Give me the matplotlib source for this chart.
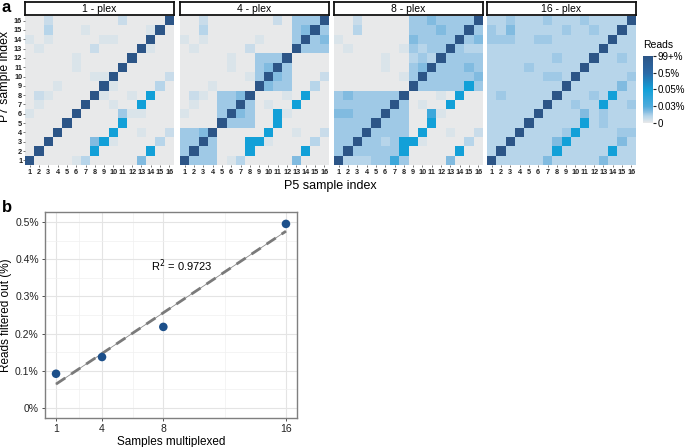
import numpy as np
import matplotlib
matplotlib.use("Agg")
import matplotlib.pyplot as plt
from matplotlib.colors import LinearSegmentedColormap, Normalize

plt.rcParams['font.family'] = ['Liberation Sans', 'DejaVu Sans']

# ---------------- data ----------------
panel_titles = ["1 - plex", "4 - plex", "8 - plex", "16 - plex"]
sample_index = list(range(1, 17))

# cell levels, rows listed from P7 index 16 (top) down to 1; columns P5 index 1..16
plex1 = ["0020000000200009", "0030001000000190", "1010000011000900", "0100000200009100",
         "0000010000090000", "0000010000900000", "0000000119000002", "0001000091000030",
         "0210000910010700", "0100009001007000", "1000090000411000", "0000900000700000",
         "0009000007001002", "0090000571000030", "0900000700000700", "9000013000005000"]
plex4 = ["0020000000204449", "0030000000004594", "1010000010004945", "0100000200009444",
         "0000010044490000", "0000010045940000", "0000000149540002", "0001000095440030",
         "0210445900010700", "0100449401007000", "1000495400710000", "0000944400700000",
         "4459000007001002", "4494000771000030", "4944000700000700", "9444013000005000"]
plex8 = ["0020000044544449", "0030000044454494", "1000000054444945", "0100000143449433",
         "0000010034394444", "0000010045944454", "0000000149444445", "0000000094444474",
         "4544444900010700", "4444449401007000", "5544494400610000", "4444944400700000",
         "4449444407001002", "4494434771000030", "4944444700000700", "9333446400005000"]
plex16 = ["3343334333433339", "4353333343343393", "4443344333333933", "3333333333339333",
          "3333333433393343", "3333433333933333", "3333334439333334", "3333333393333353",
          "3433333933343733", "3333339334337334", "3333393333534333", "3333933333734333",
          "3339333347333344", "3393333573333353", "3933333733333733", "9333335333335333"]
# level digit -> position on the colour scale (0 = "0", 1 = 0.03%, 2 = 0.05%, 3 = 0.5%, 4 = 99+%)
level_values = [0.0, 0.12, 0.25, 0.4, 0.55, 0.7, 1.3, 2.0, 3.0, 4.0]
cbar_ticks = [0, 1, 2, 3, 4]
cbar_labels = ["0", "0.03%", "0.05%", "0.5%", "99+%"]

samples_multiplexed = [1, 4, 8, 16]
reads_filtered = [0.092, 0.137, 0.218, 0.495]
r2_label = "R$^2$ = 0.9723"
b_xticks = [1, 4, 8, 16]
b_yticks = [0, 0.1, 0.2, 0.3, 0.4, 0.5]
b_yticklabels = ["0%", "0.1%", "0.2%", "0.3%", "0.4%", "0.5%"]

# ---------------- figure ----------------
W, H = 685, 447
fig = plt.figure(figsize=(W / 100, H / 100), dpi=100)

def rect(x0, y0, x1, y1):
    return [x0 / W, 1 - y1 / H, (x1 - x0) / W, (y1 - y0) / H]

cmap = LinearSegmentedColormap.from_list("reads", [
    (0.0, "#e8e9ea"), (0.1, "#b6d5ea"), (0.1375, "#9fc9e6"), (0.175, "#7fbae0"),
    (0.25, "#4eabdc"), (0.5, "#12a0d8"), (0.75, "#2b69a6"), (1.0, "#2c5587")])
norm = Normalize(0, 4)

panels = [plex1, plex4, plex8, plex16]
xs = [25, 180, 334, 487]
pw = 149
edges = np.arange(0.5, 17.5, 1)
mesh = None
for i, (rows, title) in enumerate(zip(panels, panel_titles)):
    mat = np.array([[level_values[int(c)] for c in r] for r in rows[::-1]])
    ax = fig.add_axes(rect(xs[i], 16, xs[i] + pw, 165))
    mesh = ax.pcolormesh(edges, edges, mat, cmap=cmap, norm=norm, edgecolors="none")
    ax.set_xlim(0.5, 16.5)
    ax.set_ylim(0.5, 16.5)
    for s in ax.spines.values():
        s.set_visible(False)
    ax.set_xticks(sample_index)
    ax.set_xticklabels([str(v) for v in sample_index], fontsize=5.2, color="#222222",
                       fontweight="bold")
    ax.tick_params(axis="x", length=1.2, pad=1.5, width=0.5, color="#444444")
    if i == 0:
        ax.set_yticks(sample_index)
        ax.set_yticklabels([str(v) for v in sample_index], fontsize=5.3, color="#222222",
                           fontweight="bold")
        ax.tick_params(axis="y", length=1.2, pad=0.8, width=0.5, color="#444444")
    else:
        ax.set_yticks([])
    # strip
    sax = fig.add_axes(rect(xs[i], 2, xs[i] + pw, 14.5))
    sax.set_xticks([]); sax.set_yticks([])
    sax.set_facecolor("white")
    for s in sax.spines.values():
        s.set_linewidth(1.3)
        s.set_color("#111111")
    sax.text(0.5, 0.45, title, ha="center", va="center", fontsize=7.5, transform=sax.transAxes)

fig.text(2 / W, 1 - 8 / H, "a", fontsize=12, fontweight="bold", va="center", ha="left")
fig.text(5 / W, 1 - 76 / H, "P7 sample index", rotation=90, fontsize=8.8, va="center", ha="center")
fig.text(330 / W, 1 - 186 / H, "P5 sample index", fontsize=9, va="center", ha="center")

# colour bar
cax = fig.add_axes(rect(643, 56, 653, 123))
cb = fig.colorbar(mesh, cax=cax, ticks=cbar_ticks)
cb.ax.set_yticklabels(cbar_labels, fontsize=7)
cb.outline.set_visible(False)
cb.ax.tick_params(length=2.5, width=0.8, color="#222222", pad=0.5)
fig.text(643 / W, 1 - 45 / H, "Reads", fontsize=7.5, va="center", ha="left")

# ---------------- panel b ----------------
bx = fig.add_axes(rect(45, 212, 297, 418))
bx.set_xlim(0.28, 16.72)
bx.set_ylim(-0.027, 0.527)
bx.set_xticks(b_xticks)
bx.set_xticks([2.5, 6, 12], minor=True)
bx.set_yticks(b_yticks)
bx.set_yticks([0.05, 0.15, 0.25, 0.35, 0.45], minor=True)
bx.set_yticklabels(b_yticklabels, fontsize=7.5)
bx.set_xticklabels([str(v) for v in b_xticks], fontsize=7.5)
bx.grid(True, which="major", color="#e4e4e4", linewidth=0.8)
bx.grid(True, which="minor", color="#f0f0f0", linewidth=0.5)
bx.set_axisbelow(True)
bx.tick_params(which="major", length=2.5, width=0.6, color="#333333", labelcolor="#222222", pad=2)
bx.tick_params(which="minor", length=0)
for s in bx.spines.values():
    s.set_color("#7f7f7f")
    s.set_linewidth(1.0)

xa = np.array(samples_multiplexed, dtype=float)
ya = np.array(reads_filtered)
slope, intercept = np.polyfit(xa, ya, 1)
xl = np.array([xa.min(), xa.max()])
bx.plot(xl, slope * xl + intercept, color="#8a8a8a", linewidth=0.6, zorder=2)
bx.plot(xl, slope * xl + intercept, color="#7a7a7a", linewidth=2.0, linestyle=(0, (4, 2.5)), zorder=2)
bx.scatter(xa, ya, s=38, color="#1c4f8a", zorder=3, edgecolors="none")
bx.text(9.2, 0.382, r2_label, fontsize=8, ha="center", va="center")
bx.set_xlabel("Samples multiplexed", fontsize=8.5, labelpad=1)
bx.set_ylabel("Reads filtered out (%)", fontsize=8.5, labelpad=2)

fig.text(2 / W, 1 - 208 / H, "b", fontsize=12, fontweight="bold", va="center", ha="left")

fig.savefig("out.png", dpi=100)
